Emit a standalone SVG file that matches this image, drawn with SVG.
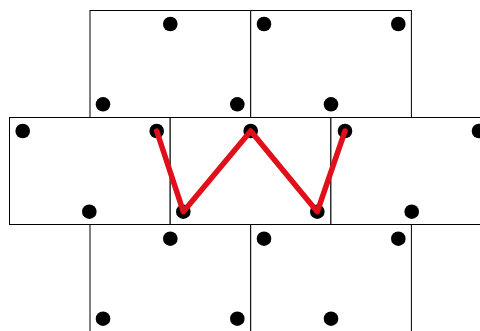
<svg xmlns="http://www.w3.org/2000/svg" width="480" height="331" viewBox="0 0 480 331">
<style>
.cell rect{fill:#fff;stroke:#000;stroke-width:1}
.cell circle{fill:#000}
.path{fill:none;stroke:#e0101a;stroke-width:5.5;stroke-linejoin:round;stroke-linecap:round}
</style>
<rect width="480" height="331" fill="#fff"/>
<g id="cell-top-1" class="cell"><rect x="90" y="10.5" width="160.7" height="107"/><circle cx="170.3" cy="24" r="7.3"/><circle cx="103" cy="104.3" r="7.3"/><circle cx="237.3" cy="104.3" r="7.3"/></g>
<g id="cell-top-2" class="cell"><rect x="250.7" y="10.5" width="160.7" height="107"/><circle cx="264" cy="24" r="7.3"/><circle cx="398.3" cy="24" r="7.3"/><circle cx="331" cy="104.3" r="7.3"/></g>
<g id="cell-mid-1" class="cell"><rect x="9.5" y="117.5" width="160.7" height="107"/><circle cx="22.7" cy="131" r="7.3"/><circle cx="156.7" cy="131" r="7.3"/><circle cx="89.3" cy="211.7" r="7.3"/></g>
<g id="cell-mid-2" class="cell"><rect x="170.2" y="117.5" width="160.7" height="107"/><circle cx="250.7" cy="131" r="7.3"/><circle cx="183.3" cy="211.7" r="7.3"/><circle cx="317.3" cy="211.7" r="7.3"/></g>
<g id="cell-mid-3" class="cell"><rect x="330.9" y="117.5" width="160.7" height="107"/><circle cx="345" cy="131" r="7.3"/><circle cx="479" cy="131" r="7.3"/><circle cx="411.7" cy="211.7" r="7.3"/></g>
<g id="cell-bot-1" class="cell"><rect x="90" y="224.5" width="160.7" height="107"/><circle cx="170.3" cy="238.7" r="7.3"/><circle cx="103" cy="318.7" r="7.3"/><circle cx="237.3" cy="318.7" r="7.3"/></g>
<g id="cell-bot-2" class="cell"><rect x="250.7" y="224.5" width="160.7" height="107"/><circle cx="264" cy="238.7" r="7.3"/><circle cx="398.3" cy="238.7" r="7.3"/><circle cx="331" cy="318.7" r="7.3"/></g>
<g id="connectors"><polyline class="path" points="156.7,131 183.3,211.7 250.7,131 317.3,211.7 345,131"/></g>
</svg>
